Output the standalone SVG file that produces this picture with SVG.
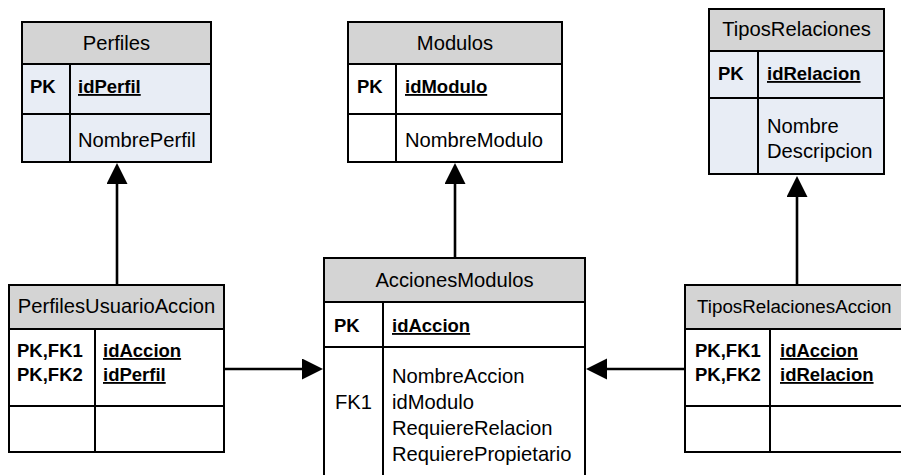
<svg xmlns="http://www.w3.org/2000/svg" width="901" height="475" viewBox="0 0 901 475">
<style>
text{font-family:"Liberation Sans",Arial,sans-serif;font-size:20.2px;fill:#000}
.h{text-anchor:middle}
.b{font-weight:bold;font-size:18.5px}
.u{font-weight:bold;font-size:18.5px;text-decoration:underline}
.hdr{fill:#d4d4d4;stroke:#000;stroke-width:2}
.bw{fill:#fff;stroke:#000;stroke-width:2}
.bb{fill:#e8edf5;stroke:#000;stroke-width:2}
.ln{stroke:#000;stroke-width:2;fill:none}
.cn{stroke:#000;stroke-width:2.6;fill:none;marker-end:url(#arr)}
</style>
<defs>
<marker id="arr" markerUnits="userSpaceOnUse" markerWidth="22" markerHeight="22" refX="1" refY="10.5" orient="auto" viewBox="0 0 22 22">
<path d="M0,0 L21,10.5 L0,21 Z" fill="#000"/>
</marker>
</defs>
<g id="connectors">
<path class="cn" d="M117,285 V183"/>
<path class="cn" d="M455,258 V183"/>
<path class="cn" d="M797,285 V196"/>
<path class="cn" d="M224,369 H303"/>
<path class="cn" d="M685,369 H606"/>
</g>
<g id="Perfiles">
<rect class="bb" x="22" y="22" width="189" height="140"/>
<rect class="hdr" x="22" y="22" width="189" height="42"/>
<path class="ln" d="M22,114 H211 M70,64 V162"/>
<text class="h" x="116.5" y="50">Perfiles</text>
<text class="b" x="30" y="93">PK</text>
<text class="u" x="78" y="93">idPerfil</text>
<text x="78" y="147">NombrePerfil</text>
</g>
<g id="Modulos">
<rect class="bw" x="348" y="22" width="214" height="140"/>
<rect class="hdr" x="348" y="22" width="214" height="42"/>
<path class="ln" d="M348,114 H562 M396,64 V162"/>
<text class="h" x="455" y="50">Modulos</text>
<text class="b" x="357" y="93">PK</text>
<text class="u" x="405" y="93">idModulo</text>
<text x="405" y="147">NombreModulo</text>
</g>
<g id="TiposRelaciones">
<rect class="bb" x="709" y="9" width="175" height="165"/>
<rect class="hdr" x="709" y="9" width="175" height="42"/>
<path class="ln" d="M709,98 H884 M758,51 V174"/>
<text class="h" x="796.5" y="36">TiposRelaciones</text>
<text class="b" x="718" y="80">PK</text>
<text class="u" x="767" y="80">idRelacion</text>
<text x="767" y="133">Nombre</text>
<text x="767" y="158">Descripcion</text>
</g>
<g id="PerfilesUsuarioAccion">
<rect class="bw" x="9" y="285" width="215" height="167"/>
<rect class="hdr" x="9" y="285" width="215" height="44"/>
<path class="ln" d="M9,406 H224 M95,329 V452"/>
<text class="h" x="116.5" y="313">PerfilesUsuarioAccion</text>
<text class="b" x="17" y="357">PK,FK1</text>
<text class="b" x="17" y="381">PK,FK2</text>
<text class="u" x="103" y="357">idAccion</text>
<text class="u" x="103" y="381">idPerfil</text>
</g>
<g id="AccionesModulos">
<rect class="bw" x="324" y="258" width="261" height="230"/>
<rect class="hdr" x="324" y="258" width="261" height="44"/>
<path class="ln" d="M324,347 H585 M383,302 V480"/>
<text class="h" x="454.5" y="287">AccionesModulos</text>
<text class="b" x="334" y="332">PK</text>
<text class="u" x="392" y="332">idAccion</text>
<text x="335" y="409">FK1</text>
<text x="392" y="383">NombreAccion</text>
<text x="392" y="409">idModulo</text>
<text x="392" y="435">RequiereRelacion</text>
<text x="392" y="461">RequierePropietario</text>
</g>
<g id="TiposRelacionesAccion">
<rect class="bw" x="685" y="285" width="230" height="167"/>
<rect class="hdr" x="685" y="285" width="230" height="44"/>
<path class="ln" d="M685,406 H915 M770,329 V452"/>
<text x="697" y="313" style="font-size:18.8px">TiposRelacionesAccion</text>
<text class="b" x="695" y="357">PK,FK1</text>
<text class="b" x="695" y="381">PK,FK2</text>
<text class="u" x="780" y="357">idAccion</text>
<text class="u" x="780" y="381">idRelacion</text>
</g>
</svg>
